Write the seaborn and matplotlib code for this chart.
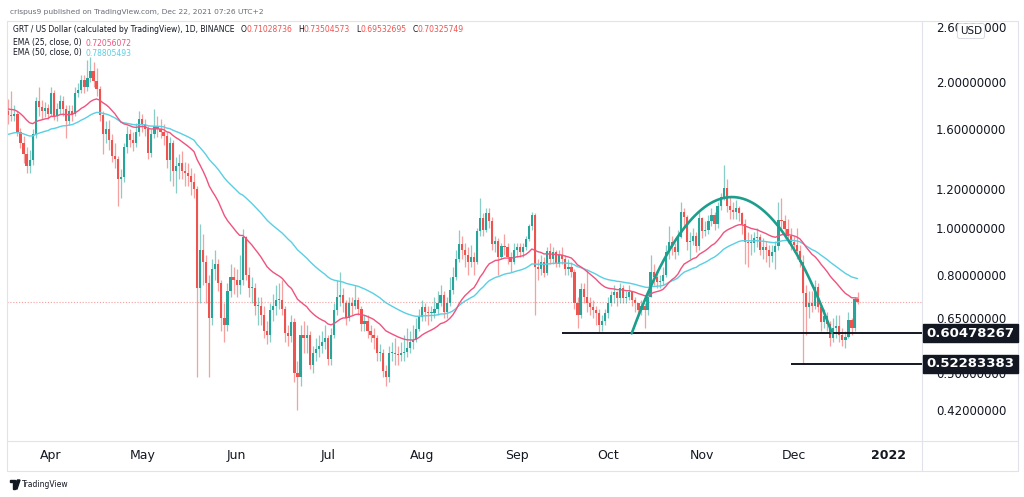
import matplotlib
matplotlib.use("Agg")
import matplotlib.pyplot as plt
import matplotlib.dates as mdates
import matplotlib.ticker as mticker
from matplotlib.lines import Line2D
from matplotlib.patches import Rectangle, Polygon, Circle
import numpy as np
import pandas as pd
import seaborn as sns

# GRT / USD daily candles, 2021-03-18 .. 2021-12-22
first_day = "2021-03-18"
first_open = 1.74

closes = [
    # Mar
    1.71, 1.70, 1.72, 1.58, 1.50, 1.42, 1.34, 1.38, 1.56, 1.83, 1.78, 1.74, 1.77, 1.72,
    # Apr
    1.90, 1.70, 1.76, 1.83, 1.76, 1.66, 1.74, 1.72, 1.90, 1.93, 2.02, 1.95, 2.04, 2.11, 2.01,
    1.94, 1.71, 1.56, 1.60, 1.52, 1.41, 1.39, 1.26, 1.27, 1.47, 1.56, 1.52, 1.50, 1.58, 1.68,
    # May
    1.64, 1.60, 1.43, 1.56, 1.62, 1.60, 1.58, 1.55, 1.38, 1.50, 1.31, 1.34, 1.36, 1.31, 1.30,
    1.28, 1.24, 1.20, 0.75, 0.90, 0.85, 0.77, 0.65, 0.82, 0.84, 0.77, 0.65, 0.63, 0.74, 0.79, 0.78,
    # Jun
    0.76, 0.78, 0.957, 0.80, 0.75, 0.75, 0.69, 0.69, 0.66, 0.61, 0.60, 0.675, 0.69, 0.71, 0.71,
    0.68, 0.606, 0.598, 0.637, 0.50, 0.49, 0.60, 0.59, 0.60, 0.52, 0.55, 0.56, 0.57, 0.58, 0.59,
    # Jul
    0.535, 0.60, 0.675, 0.72, 0.725, 0.70, 0.65, 0.70, 0.69, 0.71, 0.68, 0.633, 0.64, 0.61, 0.60,
    0.59, 0.55, 0.55, 0.505, 0.49, 0.55, 0.55, 0.548, 0.545, 0.55, 0.552, 0.565, 0.58, 0.585, 0.618, 0.653,
    # Aug
    0.685, 0.668, 0.665, 0.665, 0.68, 0.70, 0.725, 0.668, 0.70, 0.744, 0.79, 0.86, 0.925, 0.90, 0.88,
    0.85, 0.87, 0.85, 0.985, 1.045, 0.99, 1.07, 1.03, 0.925, 0.94, 0.87, 0.916, 0.91, 0.87, 0.85, 0.90,
    # Sep
    0.91, 0.89, 0.91, 0.948, 1.01, 1.06, 0.83, 0.82, 0.85, 0.807, 0.894, 0.86, 0.89, 0.84, 0.88,
    0.86, 0.82, 0.83, 0.81, 0.70, 0.66, 0.745, 0.72, 0.70, 0.685, 0.675, 0.665, 0.63, 0.64, 0.665,
    # Oct
    0.70, 0.725, 0.735, 0.715, 0.75, 0.715, 0.72, 0.735, 0.708, 0.70, 0.675, 0.69, 0.675, 0.72, 0.81,
    0.79, 0.773, 0.775, 0.80, 0.89, 0.935, 0.91, 0.89, 0.957, 1.08, 1.05, 0.935, 0.94, 0.96, 0.916, 1.045,
    # Nov
    0.985, 0.99, 1.03, 1.06, 1.02, 1.11, 1.16, 1.21, 1.11, 1.09, 1.08, 1.10, 1.07, 1.02, 0.935,
    0.93, 0.93, 0.95, 0.957, 0.90, 0.91, 0.90, 0.873, 0.89, 0.916, 1.035, 1.03, 0.995, 0.96, 0.935,
    # Dec
    0.92, 0.895, 0.85, 0.733, 0.685, 0.70, 0.69, 0.755, 0.685, 0.637, 0.655, 0.633, 0.59, 0.62, 0.625,
    0.60, 0.585, 0.595, 0.643, 0.62, 0.71028736, 0.70325749,
]

highs = [
    1.85, 1.92, 1.79, 1.74, 1.61, 1.55, 1.47, 1.45, 1.60, 1.86, 1.95, 1.84, 1.82, 1.80,
    1.95, 1.93, 1.81, 1.88, 1.87, 1.79, 1.79, 1.79, 1.95, 1.99, 2.07, 2.07, 2.22, 2.25, 2.20,
    2.14, 1.96, 1.74, 1.66, 1.67, 1.56, 1.50, 1.41, 1.32, 1.50, 1.62, 1.60, 1.58, 1.65, 1.74,
    1.72, 1.68, 1.62, 1.60, 1.76, 1.70, 1.68, 1.64, 1.58, 1.54, 1.52, 1.40, 1.42, 1.44, 1.37,
    1.36, 1.33, 1.30, 1.22, 1.02, 0.97, 0.88, 0.80, 0.86, 0.90, 0.86, 0.78, 0.70, 0.77, 0.84, 0.83,
    0.82, 0.88, 0.995, 0.96, 0.83, 0.79, 0.77, 0.72, 0.72, 0.69, 0.64, 0.70, 0.73, 0.76, 0.77,
    0.78, 0.69, 0.63, 0.66, 0.65, 0.53, 0.63, 0.64, 0.63, 0.61, 0.57, 0.59, 0.60, 0.61, 0.63,
    0.60, 0.62, 0.70, 0.78, 0.81, 0.75, 0.71, 0.72, 0.72, 0.76, 0.72, 0.69, 0.66, 0.66, 0.63,
    0.62, 0.60, 0.575, 0.56, 0.52, 0.57, 0.58, 0.59, 0.57, 0.58, 0.60, 0.62, 0.61, 0.63, 0.65, 0.68,
    0.71, 0.70, 0.69, 0.69, 0.72, 0.74, 0.76, 0.74, 0.72, 0.79, 0.83, 0.90, 0.99, 0.96, 0.93,
    0.91, 0.92, 0.89, 1.00, 1.15, 1.07, 1.10, 1.10, 1.05, 0.96, 0.95, 0.93, 0.97, 0.93, 0.89, 0.93,
    0.93, 0.93, 0.93, 0.96, 1.02, 1.08, 1.07, 0.86, 0.88, 0.87, 0.91, 0.93, 0.91, 0.90, 0.90,
    0.91, 0.88, 0.86, 0.85, 0.82, 0.72, 0.77, 0.77, 0.82, 0.72, 0.71, 0.69, 0.68, 0.66, 0.68,
    0.72, 0.74, 0.76, 0.74, 0.77, 0.76, 0.74, 0.76, 0.74, 0.72, 0.70, 0.71, 0.70, 0.74, 0.88,
    0.84, 0.81, 0.80, 0.83, 0.92, 1.01, 0.96, 0.93, 0.99, 1.13, 1.10, 1.06, 0.98, 1.00, 0.98, 1.08,
    1.05, 1.03, 1.06, 1.10, 1.08, 1.13, 1.18, 1.35, 1.26, 1.16, 1.13, 1.14, 1.11, 1.08, 1.04,
    0.98, 0.97, 0.98, 1.00, 0.97, 0.95, 0.94, 0.92, 0.92, 0.94, 1.13, 1.15, 1.06, 1.04, 1.00,
    0.96, 1.00, 0.92, 0.88, 0.76, 0.74, 0.74, 0.78, 0.77, 0.70, 0.68, 0.67, 0.64, 0.65, 0.66,
    0.66, 0.62, 0.61, 0.67, 0.65, 0.72, 0.73504573,
]

lows = [
    1.64, 1.66, 1.66, 1.55, 1.46, 1.36, 1.30, 1.30, 1.35, 1.53, 1.70, 1.68, 1.69, 1.68,
    1.70, 1.67, 1.66, 1.72, 1.70, 1.53, 1.63, 1.66, 1.70, 1.86, 1.90, 1.90, 1.92, 2.00, 1.95,
    1.87, 1.66, 1.42, 1.50, 1.45, 1.37, 1.33, 1.11, 1.15, 1.24, 1.43, 1.47, 1.44, 1.47, 1.55,
    1.58, 1.55, 1.39, 1.40, 1.53, 1.54, 1.53, 1.48, 1.33, 1.25, 1.22, 1.18, 1.26, 1.26, 1.22,
    1.22, 1.17, 1.15, 0.49, 0.70, 0.76, 0.70, 0.49, 0.63, 0.78, 0.74, 0.61, 0.58, 0.61, 0.72, 0.73,
    0.72, 0.73, 0.76, 0.78, 0.72, 0.70, 0.66, 0.63, 0.63, 0.59, 0.575, 0.58, 0.64, 0.66, 0.68,
    0.66, 0.58, 0.57, 0.58, 0.48, 0.42, 0.47, 0.55, 0.55, 0.51, 0.50, 0.53, 0.54, 0.55, 0.56,
    0.52, 0.52, 0.59, 0.66, 0.69, 0.67, 0.63, 0.64, 0.66, 0.68, 0.66, 0.61, 0.61, 0.59, 0.58,
    0.56, 0.53, 0.53, 0.49, 0.47, 0.48, 0.53, 0.52, 0.52, 0.53, 0.53, 0.54, 0.55, 0.56, 0.58, 0.61,
    0.64, 0.64, 0.63, 0.64, 0.65, 0.66, 0.69, 0.65, 0.65, 0.69, 0.73, 0.78, 0.85, 0.86, 0.83,
    0.80, 0.83, 0.80, 0.84, 0.96, 0.96, 0.98, 1.00, 0.90, 0.89, 0.80, 0.86, 0.88, 0.84, 0.81, 0.84,
    0.87, 0.87, 0.87, 0.90, 0.94, 0.99, 0.66, 0.78, 0.80, 0.79, 0.80, 0.84, 0.84, 0.83, 0.83,
    0.84, 0.80, 0.80, 0.79, 0.68, 0.62, 0.65, 0.70, 0.67, 0.66, 0.65, 0.63, 0.605, 0.61, 0.63,
    0.65, 0.69, 0.70, 0.69, 0.70, 0.70, 0.70, 0.71, 0.69, 0.67, 0.66, 0.66, 0.62, 0.66, 0.72,
    0.76, 0.75, 0.75, 0.76, 0.79, 0.86, 0.88, 0.86, 0.88, 0.95, 1.00, 0.90, 0.86, 0.92, 0.89, 0.90,
    0.95, 0.96, 0.97, 1.01, 0.99, 1.00, 1.09, 1.14, 1.08, 1.04, 1.04, 1.04, 1.03, 0.97, 0.84,
    0.83, 0.88, 0.89, 0.91, 0.88, 0.86, 0.85, 0.83, 0.85, 0.82, 0.90, 0.99, 0.95, 0.93, 0.90,
    0.89, 0.86, 0.83, 0.52283383, 0.60, 0.65, 0.67, 0.68, 0.67, 0.61, 0.62, 0.61, 0.57, 0.58, 0.59,
    0.58, 0.57, 0.565, 0.59, 0.60, 0.61, 0.69532695,
]

# EMA values on the first visible day (at the left edge)
ema_seed = {25: 1.76, 50: 1.56}
ema_legend = {25: "0.72056072", 50: "0.78805493"}

# drawn levels and the rounded-top arc
support_levels = [0.60478267, 0.52283383]
support_starts = ["2021-09-15 22:00", "2021-11-30 00:00"]
arc_dates = ["2021-10-08 19:00", "2021-11-10 17:00", "2021-12-13 14:00"]
arc_prices = [0.6048, 1.157, 0.6048]

y_ticks = [0.42, 0.50, 0.65, 0.80, 1.00, 1.20, 1.60, 2.00, 2.60]
x_tick_dates = ["2021-04-01", "2021-05-01", "2021-06-01", "2021-07-01", "2021-08-01",
                "2021-09-01", "2021-10-01", "2021-11-01", "2021-12-01", "2022-01-01"]
x_tick_labels = ["Apr", "May", "Jun", "Jul", "Aug", "Sep", "Oct", "Nov", "Dec", "2022"]

UP, DOWN = "#26a69a", "#ef5350"
EMA25_C, EMA50_C = "#f0527e", "#59cfe3"
TXT, GREY, FRAME = "#131722", "#6a6d78", "#e0e3eb"


def ema(values, span, seed):
    a = 2.0 / (span + 1)
    out = [seed]
    for v in values[1:]:
        out.append(a * v + (1 - a) * out[-1])
    return np.array(out)


close = np.array(closes)
open_ = np.concatenate([[first_open], close[:-1]])
high = np.maximum(np.array(highs), np.maximum(open_, close))
low = np.minimum(np.array(lows), np.minimum(open_, close))
dates = pd.date_range(first_day, periods=len(close), freq="D")
x = mdates.date2num(dates)
ema25 = ema(close, 25, ema_seed[25])
ema50 = ema(close, 50, ema_seed[50])

sns.set_theme(style="white")
plt.rcParams['font.family'] = ['DejaVu Sans']

W, H = 1024, 497
fig = plt.figure(figsize=(W / 100, H / 100), dpi=100)
fig.patch.set_facecolor("white")


def fx(px):
    return px / W


def fy(py):
    return 1 - py / H


ax = fig.add_axes([fx(7), fy(441), fx(922) - fx(7), fy(21) - fy(441)])
ax.set_facecolor("white")
ax.set_yscale("log")

# candles
up = close >= open_
body_lo = np.minimum(open_, close)
body_h = np.maximum(np.abs(close - open_), body_lo * 0.004)
for mask, col in ((up, UP), (~up, DOWN)):
    ax.vlines(x[mask], low[mask], high[mask], color=col, lw=0.9, alpha=0.55, zorder=2)
    ax.bar(x[mask], body_h[mask], bottom=body_lo[mask], width=0.72, color=col,
           linewidth=0, zorder=3)

# moving averages
sns.lineplot(x=x, y=ema50, ax=ax, color=EMA50_C, lw=1.0, zorder=4)
sns.lineplot(x=x, y=ema25, ax=ax, color=EMA25_C, lw=1.0, zorder=4)

x_left = mdates.date2num(pd.Timestamp(first_day)) - 0.43
x_right = mdates.date2num(pd.Timestamp(first_day)) + 300.16
ax.set_xlim(x_left, x_right)
ax.set_ylim(0.362, 2.676)

# last price dotted line
ax.axhline(close[-1], color=DOWN, lw=0.8, ls=(0, (1, 1.6)), alpha=0.55, zorder=1)

# support lines
for lvl, start in zip(support_levels, support_starts):
    ax.hlines(lvl, mdates.date2num(pd.Timestamp(start)), x_right, color=TXT, lw=1.4, zorder=5)

# arc drawing
a_x = mdates.date2num(pd.to_datetime(arc_dates))
t = np.linspace(a_x[0], a_x[2], 200)
half = (a_x[2] - a_x[0]) / 2
lp_top, lp_foot = np.log(arc_prices[1]), np.log(arc_prices[0])
arc = np.exp(lp_top - (lp_top - lp_foot) * ((t - a_x[1]) / half) ** 2)
ax.plot(t, arc, color="#1b9e8c", lw=1.9, zorder=6, solid_capstyle="round")

# axes styling
for s in ax.spines.values():
    s.set_visible(False)
ax.grid(False)
ax.yaxis.tick_right()
ax.yaxis.set_major_locator(mticker.FixedLocator(y_ticks))
ax.yaxis.set_minor_locator(mticker.NullLocator())
ax.yaxis.set_major_formatter(mticker.FuncFormatter(lambda v, p: f"{v:.8f}"))
ax.tick_params(axis="y", length=0, pad=10, labelsize=8.5, colors=TXT)
ax.set_xticks(mdates.date2num(pd.to_datetime(x_tick_dates)))
ax.set_xticklabels(x_tick_labels)
ax.tick_params(axis="x", length=0, pad=6, labelsize=9, colors=TXT)
ax.get_xticklabels()[-1].set_fontweight("bold")
ax.set_xlabel("")
ax.set_ylabel("")
if ax.get_legend():
    ax.get_legend().remove()

# frame lines
for xs, ys in (([7, 1018], [21, 21]), ([7, 1018], [471, 471]), ([7, 7], [21, 471]),
               ([1018, 1018], [21, 471]), ([7, 1018], [441, 441]), ([922, 922], [21, 471])):
    fig.add_artist(Line2D([fx(v) for v in xs], [fy(v) for v in ys], color=FRAME, lw=0.8))

# price labels on the axis
for lvl in support_levels:
    yc = ax.transData.transform((x_right, lvl))[1]
    fig.add_artist(Rectangle((fx(923), (yc - 9) / H), fx(1018) - fx(923), 18 / H,
                             transform=fig.transFigure, facecolor=TXT, edgecolor=TXT, zorder=10))
    fig.text(fx(970), yc / H, f"{lvl:.8f}", color="white", fontsize=9.5, fontweight="bold",
             ha="center", va="center", zorder=11)

fig.text(fx(971), fy(31), "USD", ha="center", va="center", fontsize=7.5, color=TXT,
         bbox=dict(boxstyle="round,pad=0.25", fc="white", ec="#d1d4dc", lw=0.6), zorder=12)

# header texts
fig.text(fx(10), fy(12), "crispus9 published on TradingView.com, Dec 22, 2021 07:26 UTC+2",
         fontsize=5.4, color=GREY, va="center")

renderer = fig.canvas.get_renderer()


def text_row(px, py, parts, size=5.5):
    for s, col, gap in parts:
        tt = fig.text(fx(px), fy(py), s, color=col, fontsize=size, va="center", ha="left")
        px += tt.get_window_extent(renderer).width + gap


ohlc = [("O", open_[-1]), ("H", high[-1]), ("L", low[-1]), ("C", close[-1])]
parts = [("GRT / US Dollar (calculated by TradingView), 1D, BINANCE", TXT, 6)]
for k, v in ohlc:
    parts += [(k, TXT, 0), (f"{v:.8f}", DOWN, 6)]
text_row(13, 30, parts)
text_row(13, 43, [("EMA (25, close, 0)", TXT, 4), (ema_legend[25], EMA25_C, 0)])
text_row(13, 53, [("EMA (50, close, 0)", TXT, 4), (ema_legend[50], EMA50_C, 0)])

# TradingView logo + name at the bottom
fig.add_artist(Polygon([(fx(10), fy(480)), (fx(14.5), fy(480)), (fx(14.5), fy(489)),
                        (fx(12.5), fy(489)), (fx(12.5), fy(482)), (fx(10), fy(482))],
                       closed=True, transform=fig.transFigure, color=TXT))
fig.add_artist(Circle((fx(16.2), fy(481.5)), 1.1 / W, transform=fig.transFigure, color=TXT))
fig.add_artist(Polygon([(fx(17.5), fy(480)), (fx(20), fy(480)), (fx(17), fy(489)),
                        (fx(15), fy(489))], closed=True, transform=fig.transFigure, color=TXT))
fig.text(fx(22), fy(484.5), "TradingView", fontsize=5.5, color=TXT, va="center")

fig.savefig("out.png", dpi=100, facecolor="white")
